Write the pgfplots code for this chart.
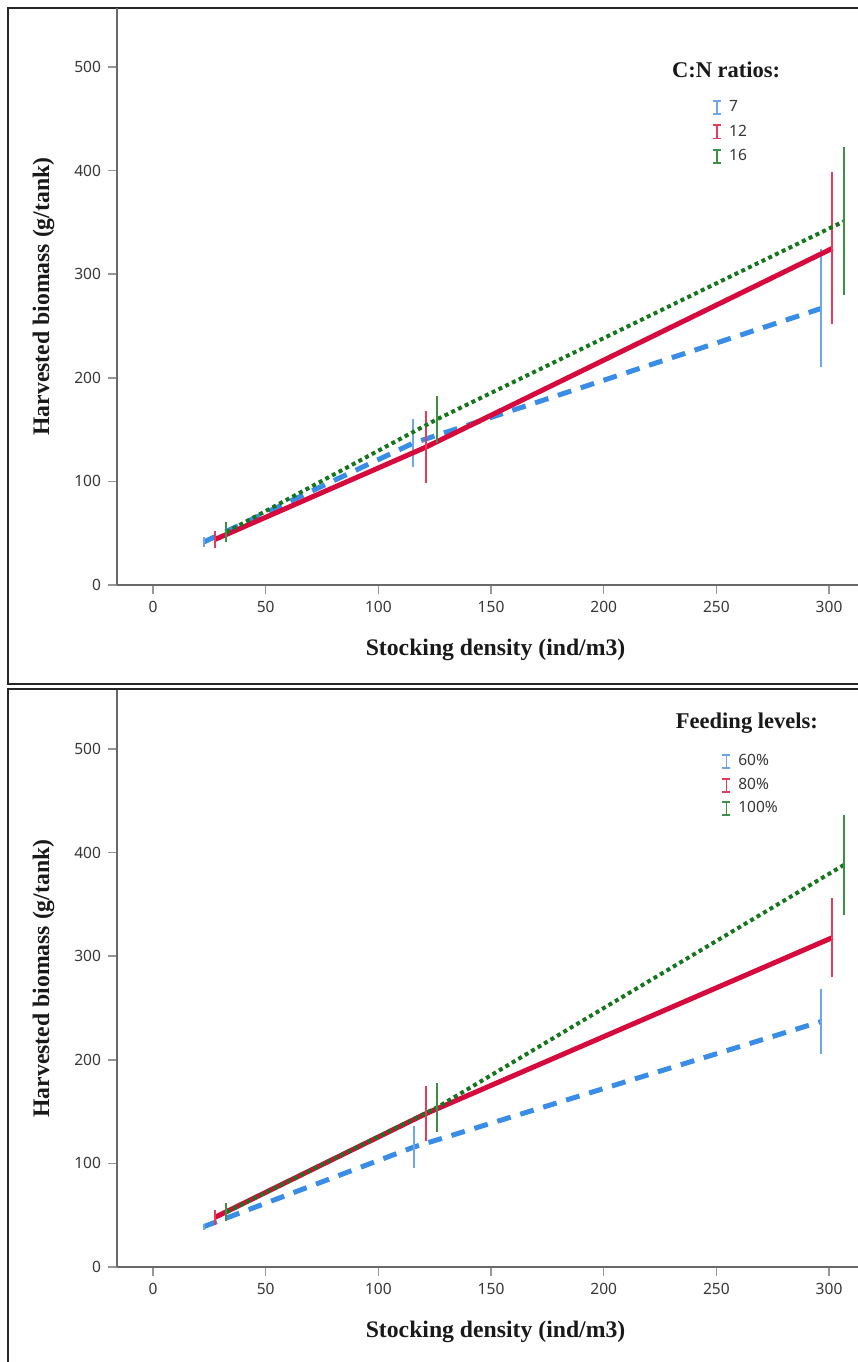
\documentclass[border=0pt]{standalone}
\usepackage{fontspec}
\usepackage{pgfplots}
\pgfplotsset{compat=1.18}
\setmainfont{Liberation Serif}
\newfontfamily\ticksans{Noto Sans}

\definecolor{serBlue}{RGB}{58,141,230}
\definecolor{serBlueBar}{RGB}{110,165,236}
\definecolor{serRed}{RGB}{214,10,60}
\definecolor{serRedBar}{RGB}{230,60,90}
\definecolor{serGreen}{RGB}{22,118,30}
\definecolor{serGreenBar}{RGB}{60,145,68}
\definecolor{axisgray}{RGB}{105,105,105}
\definecolor{tickgray}{RGB}{150,150,150}
\definecolor{labelgray}{RGB}{55,55,55}

\pgfplotsset{
  panel/.style={
    scale only axis, width=378.56bp, height=288.5bp,
    xmin=-16, xmax=320, ymin=0, ymax=557,
    axis lines*=left,
    axis line style={-, draw=axisgray, line width=0.75bp},
    xtick={0,50,...,300}, ytick={0,100,...,500},
    tick align=outside, major tick length=4.5bp,
    tick style={draw=tickgray, line width=0.75bp},
    /pgf/number format/assume math mode=true,
    tick label style={font=\ticksans\fontsize{7.8}{9}\selectfont, text=labelgray},
    xlabel={Stocking density (ind/m3)},
    ylabel={Harvested biomass (g/tank)},
    label style={font=\bfseries\fontsize{11.9}{14}\selectfont, text=black!90},
    x label style={at={(axis description cs:0.5,-0.1127)}, anchor=center},
    y label style={at={(axis description cs:-0.097,0.5)}, anchor=center},
    legend cell align=left,
    legend style={draw=none, fill=none, anchor=west,
      font=\ticksans\fontsize{7.8}{9}\selectfont, text=labelgray,
      row sep=3.2bp, column sep=2.5bp, nodes={inner sep=1bp}},
    clip=false,
  },
  errs/.style={error bars/y dir=both, error bars/y explicit,
    error bars/error mark=none,
    error bars/error bar style={solid, line width=1bp, #1}},
  imark/.style={legend image code/.code={%
    \draw[#1, solid, line width=0.9bp] (2bp,-3.3bp) -- (2bp,3.3bp)
      (0bp,-3.3bp) -- (4bp,-3.3bp) (0bp,3.3bp) -- (4bp,3.3bp);}},
  lowBlue/.style={serBlue, line width=2.5bp, dash pattern=on 7bp off 5bp,
    errs=serBlueBar, imark=serBlueBar},
  midRed/.style={serRed, line width=2.5bp, errs=serRedBar, imark=serRedBar},
  highGreen/.style={serGreen, line width=2bp, dash pattern=on 2bp off 1.75bp,
    errs=serGreenBar, imark=serGreenBar},
}

\begin{document}
\begin{tikzpicture}
\useasboundingbox (0,0) rectangle (429bp,-681bp);
% panel frames
\draw[line width=1bp, draw=black!85] (4bp,-4bp) rectangle (440bp,-342bp);
\draw[line width=1bp, draw=black!85] (4bp,-344.5bp) rectangle (440bp,-700bp);

% C:N ratio panel
\begin{axis}[panel, at={(58.5bp,-292.5bp)}, anchor=south west,
  legend style={at={(axis description cs:0.778,0.785)}}]
\addplot[lowBlue] coordinates {
  (22.5,41.5) +- (0,5)
  (115.5,137) +- (0,23)
  (296.5,267) +- (0,57)
};
\addlegendentry{7}
\addplot[midRed] coordinates {
  (27.5,44) +- (0,8)
  (121,133) +- (0,35)
  (301.5,325) +- (0,73.5)
};
\addlegendentry{12}
\addplot[highGreen] coordinates {
  (32.5,51) +- (0,9.5)
  (126,160) +- (0,22.5)
  (306.5,351) +- (0,71.5)
};
\addlegendentry{16}
\node[font=\bfseries\fontsize{11.3}{13}\selectfont, text=black!90]
  at (axis description cs:0.8045,0.8925) {C:N ratios:};
\end{axis}

% feeding level panel
\begin{axis}[panel, at={(58.5bp,-633.5bp)}, anchor=south west,
  legend style={at={(axis description cs:0.79,0.835)}, row sep=2.6bp}]
\addplot[lowBlue] coordinates {
  (22.5,39) +- (0,3)
  (116,116) +- (0,20)
  (296.5,237) +- (0,31)
};
\addlegendentry{60\%}
\addplot[midRed] coordinates {
  (27.5,48) +- (0,7)
  (121,148) +- (0,26.5)
  (301.5,318) +- (0,38.5)
};
\addlegendentry{80\%}
\addplot[highGreen] coordinates {
  (32.5,53) +- (0,9)
  (126,154) +- (0,24)
  (306.5,388) +- (0,48.5)
};
\addlegendentry{100\%}
\node[font=\bfseries\fontsize{11.3}{13}\selectfont, text=black!90]
  at (axis description cs:0.832,0.9428) {Feeding levels:};
\end{axis}
\end{tikzpicture}
\end{document}
